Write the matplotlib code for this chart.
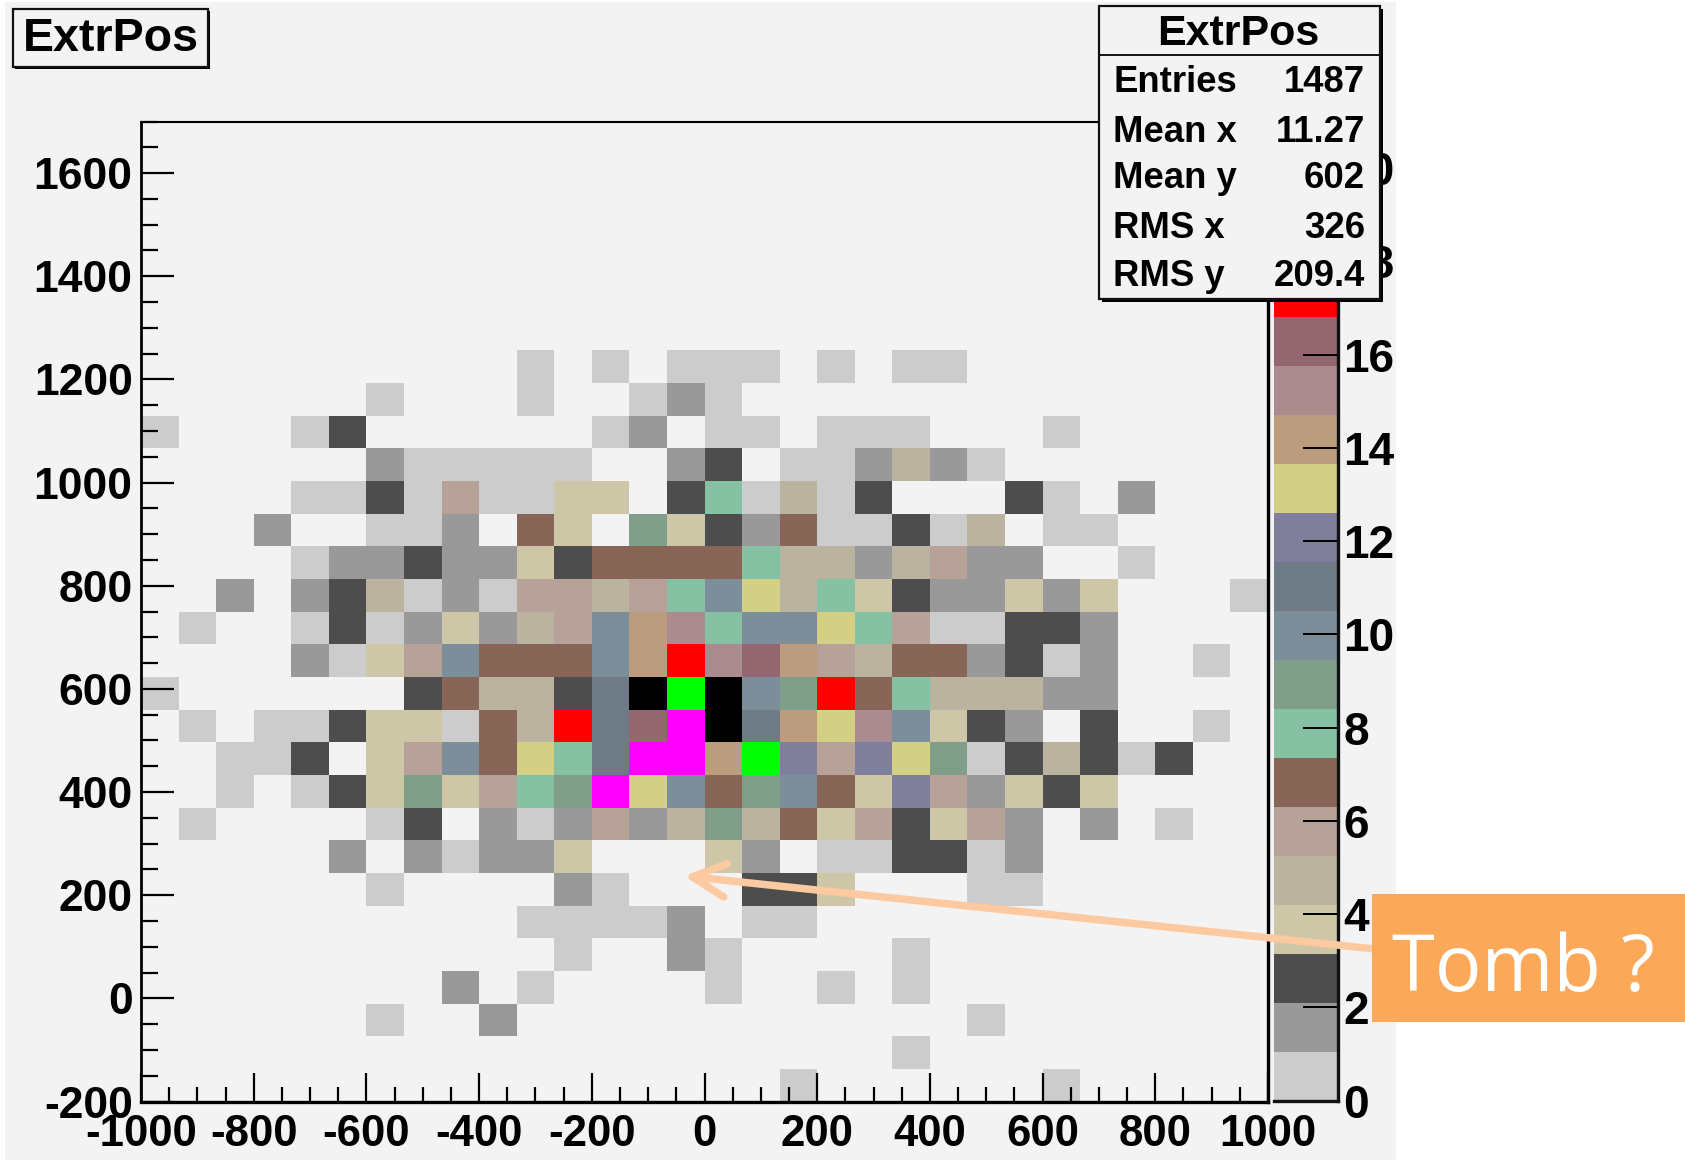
import numpy as np
import matplotlib
matplotlib.use("Agg")
import matplotlib.pyplot as plt
from matplotlib.colors import ListedColormap, BoundaryNorm
from matplotlib.patches import Rectangle, FancyArrowPatch

plt.rcParams['font.family'] = ['Liberation Sans', 'DejaVu Sans']
plt.rcParams['font.weight'] = 'bold'
plt.rcParams['axes.unicode_minus'] = False

###############################################################################

# counts per cell, top row first (y 1700 -> -200), left to right (x -1000 -> 1000)
empty = [0]*30
row07 = [0,0,0,0,0,0,0,0,0,0,1,0,1,0,1,1,1,0,1,0,1,1,0,0,0,0,0,0,0,0]
row08 = [0,0,0,0,0,0,1,0,0,0,1,0,0,1,2,1,0,0,0,0,0,0,0,0,0,0,0,0,0,0]
row09 = [1,0,0,0,1,3,0,0,0,0,0,0,1,2,0,1,1,0,1,1,1,0,0,0,1,0,0,0,0,0]
row10 = [0,0,0,0,0,0,2,1,1,1,1,1,0,0,2,3,0,1,1,2,5,2,1,0,0,0,0,0,0,0]
row11 = [0,0,0,0,1,1,3,1,6,1,1,4,4,0,3,8,1,5,1,3,0,0,0,3,1,0,2,0,0,0]
row12 = [0,0,0,2,0,0,1,1,2,0,7,4,0,9,4,3,2,7,1,1,3,1,5,0,1,1,0,0,0,0]
row13 = [0,0,0,0,1,2,2,3,2,2,4,3,7,7,7,7,8,5,5,2,5,6,2,2,0,0,1,0,0,0]
row14 = [0,0,2,0,2,3,5,1,2,1,6,6,5,6,8,10,13,5,8,4,3,2,2,4,2,4,0,0,0,1]
row15 = [0,1,0,0,1,3,1,2,4,2,5,6,10,14,15,8,10,10,13,8,6,1,1,3,3,2,0,0,0,0]
row16 = [0,0,0,0,2,1,4,6,10,7,7,7,10,14,17,15,16,14,6,5,7,7,2,3,1,2,0,0,1,0]
row17 = [1,0,0,0,0,0,0,3,7,5,5,3,11,20,18,20,10,9,17,7,8,5,5,5,2,2,0,0,0,0]
row18 = [0,1,0,1,1,3,4,4,1,7,5,17,11,16,19,20,11,14,13,15,10,4,3,2,0,3,0,0,1,0]
row19 = [0,0,1,1,3,0,4,6,10,7,13,8,11,19,19,14,18,12,6,12,13,9,1,3,5,3,1,3,0,0]
row20 = [0,0,1,0,1,3,4,9,4,6,8,9,19,13,10,7,9,10,7,4,12,6,2,4,3,4,0,0,0,0]
row21 = [0,1,0,0,0,0,1,3,0,2,1,2,6,2,5,9,5,7,4,6,3,4,6,2,0,2,0,1,0,0]
row22 = [0,0,0,0,0,2,0,2,1,2,2,4,0,0,0,4,2,0,1,1,3,3,1,2,0,0,0,0,0,0]
row23 = [0,0,0,0,0,0,1,0,0,0,0,2,1,0,0,0,3,3,4,0,0,0,1,1,0,0,0,0,0,0]
row24 = [0,0,0,0,0,0,0,0,0,0,1,1,1,1,2,0,1,1,0,0,0,0,0,0,0,0,0,0,0,0]
row25 = [0,0,0,0,0,0,0,0,0,0,0,1,0,0,2,1,0,0,0,0,1,0,0,0,0,0,0,0,0,0]
row26 = [0,0,0,0,0,0,0,0,2,0,1,0,0,0,0,1,0,0,1,0,1,0,0,0,0,0,0,0,0,0]
row27 = [0,0,0,0,0,0,1,0,0,2,0,0,0,0,0,0,0,0,0,0,0,0,1,0,0,0,0,0,0,0]
row28 = [0,0,0,0,0,0,0,0,0,0,0,0,0,0,0,0,0,0,0,0,1,0,0,0,0,0,0,0,0,0]
row29 = [0,0,0,0,0,0,0,0,0,0,0,0,0,0,0,0,0,1,0,0,0,0,0,0,1,0,0,0,0,0]

palette = ["#cccccc", "#999999", "#4d4d4d", "#cdc7a8", "#bab39f", "#b6a298", "#876657",
           "#85c1a2", "#819e8b", "#7b8e99", "#6e7a85", "#7f7e9b", "#d3cf85", "#bc9c7e",
           "#aa8b90", "#936670", "#ff0000", "#00ff00", "#ff00ff", "#000000"]

x_ticks = [-1000, -800, -600, -400, -200, 0, 200, 400, 600, 800, 1000]
y_ticks = [-200, 0, 200, 400, 600, 800, 1000, 1200, 1400, 1600]
z_ticks = [0, 2, 4, 6, 8, 10, 12, 14, 16, 18, 20]
stats_names = ["Entries", "Mean x", "Mean y", "RMS x", "RMS y"]
stats_values = ["1487", "11.27", "602", "326", "209.4"]

###############################################################################

W, H = 1685, 1162
PANEL = "#f3f3f3"

def rect(x0, y0, x1, y1):
    # pixel box (y from the top) to figure fractions
    return [x0/W, 1 - y1/H, (x1 - x0)/W, (y1 - y0)/H]

fig = plt.figure(figsize=(W/100, H/100), dpi=100, facecolor="white")

# grey canvas behind everything
bg = fig.add_axes([0, 0, 1, 1], zorder=0)
bg.set_xlim(0, W)
bg.set_ylim(H, 0)
bg.axis("off")
bg.add_patch(Rectangle((5, 2), 1391, 1158, fc=PANEL, ec="none"))

###############################################################################

rows = [empty]*7 + [row07, row08, row09, row10, row11, row12, row13, row14, row15, row16,
                    row17, row18, row19, row20, row21, row22, row23, row24, row25, row26,
                    row27, row28, row29]
counts = np.array(rows[::-1], dtype=float)
counts = np.ma.masked_equal(counts, 0)

x_edges = np.linspace(-1000, 1000, 31)
y_edges = np.linspace(-200, 1700, 31)
levels = np.linspace(0, 21, 21)
cmap = ListedColormap(palette)
norm = BoundaryNorm(levels, cmap.N)

ax = fig.add_axes(rect(141, 121.5, 1268, 1101.5), zorder=1)
ax.set_facecolor(PANEL)
mesh = ax.pcolormesh(x_edges, y_edges, counts, cmap=cmap, norm=norm)
ax.set_xlim(-1000, 1000)
ax.set_ylim(-200, 1700)
ax.set_xticks(x_ticks)
ax.set_yticks(y_ticks)
ax.set_xticklabels([str(v) for v in x_ticks])
ax.set_yticklabels([str(v) for v in y_ticks])
ax.set_xticks(np.arange(-1000, 1001, 50), minor=True)
ax.set_yticks(np.arange(-200, 1701, 50), minor=True)
ax.tick_params(axis="y", which="major", direction="in", length=24, width=1.6, labelsize=32, pad=6)
ax.tick_params(axis="y", which="minor", direction="in", length=12, width=1.6)
ax.tick_params(axis="x", which="major", direction="in", length=21, width=1.6, labelsize=31.5, pad=9)
ax.tick_params(axis="x", which="minor", direction="in", length=10.5, width=1.6)
ax.spines["top"].set_linewidth(1.5)
ax.spines["left"].set_linewidth(2)
ax.spines["right"].set_linewidth(2.4)
ax.spines["bottom"].set_linewidth(2.4)

# colour scale
cax = fig.add_axes(rect(1274, 121.5, 1337.5, 1100.5), zorder=1)
cb = fig.colorbar(mesh, cax=cax, spacing="proportional", ticks=z_ticks, drawedges=False)
cb.outline.set_visible(False)
cax.axvline(1, color="#111111", lw=2.4, clip_on=False)
cax.axhline(0, color="#111111", lw=2.4, clip_on=False)
cax.set_yticklabels([str(v) for v in z_ticks])
cax.tick_params(axis="y", which="major", direction="in", length=25, width=1.4, labelsize=33, pad=4)
cax.tick_params(axis="y", which="minor", length=0)

###############################################################################

# annotations on top, in pixel coordinates
top = fig.add_axes([0, 0, 1, 1], zorder=5)
top.set_xlim(0, W)
top.set_ylim(H, 0)
top.axis("off")
top.patch.set_alpha(0)

# title box
top.add_patch(Rectangle((15, 11), 195, 58, fc="black", ec="none"))
top.add_patch(Rectangle((13, 8.5), 194.5, 58, fc=PANEL, ec="#111111", lw=1.6))
top.text(111, 39, "ExtrPos", fontsize=33.5, ha="center", va="center")

# stats box
top.add_patch(Rectangle((1102, 9), 280.5, 292.5, fc="black", ec="none"))
top.add_patch(Rectangle((1099, 6), 280.5, 292.5, fc=PANEL, ec="#111111", lw=1.6))
top.plot([1099, 1379.5], [55, 55], color="#111111", lw=1.4)
top.text(1238, 34, "ExtrPos", fontsize=31, ha="center", va="center")
stats_y = [83, 132, 178, 229, 277]
for name, value, y in zip(stats_names, stats_values, stats_y):
    top.text(1113, y, name, fontsize=26.3, ha="left", va="center")
    top.text(1365, y, value, fontsize=26.3, ha="right", va="center")

# arrow and label
arrow = FancyArrowPatch((1375, 949), (684, 876), arrowstyle="->,head_length=24,head_width=12",
                        color="#fdc9a0", lw=5.4, capstyle="round", joinstyle="round",
                        mutation_scale=1, shrinkA=0, shrinkB=0)
top.add_patch(arrow)
top.add_patch(Rectangle((1372, 894), 313, 128, fc="#fba958", ec="none"))
top.text(1392, 971, "Tomb ?", fontsize=56, color="white", family="Open Sans", weight="normal",
         ha="left", va="center")

fig.savefig("out.png", dpi=100)
